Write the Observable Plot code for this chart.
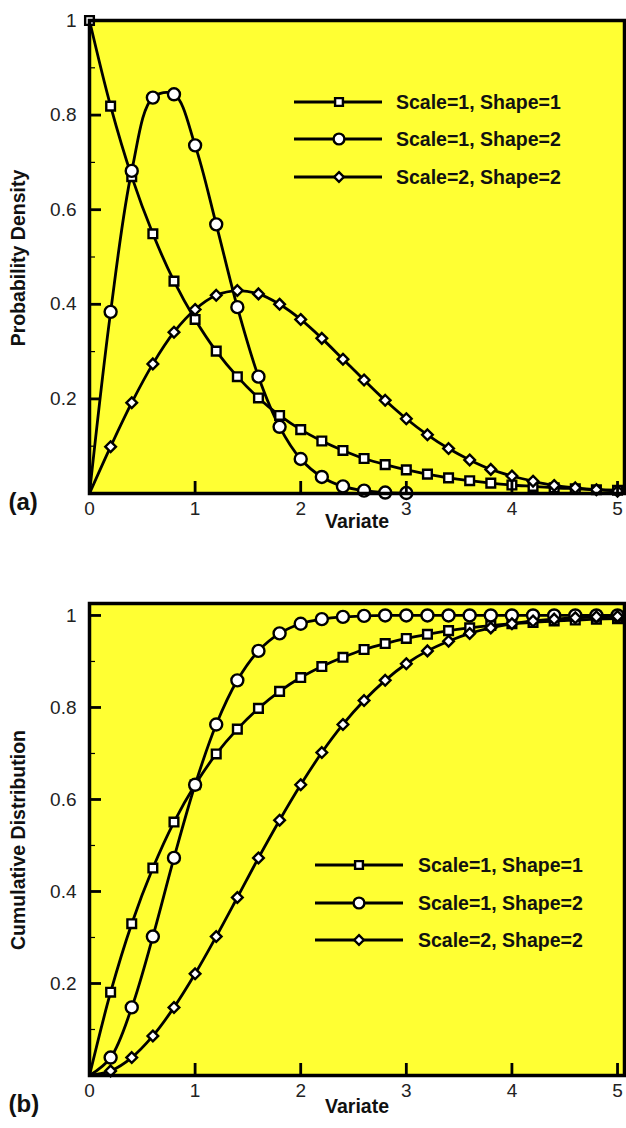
<!DOCTYPE html>
<html>
<head>
<meta charset="utf-8">
<script src="https://cdn.jsdelivr.net/npm/d3@7"></script>
<script src="https://cdn.jsdelivr.net/npm/@observablehq/plot@0.6"></script>
<style>
  body { margin: 0; background: #fff; }
  #wrap { position: relative; width: 626px; height: 1128px; overflow: hidden; font-family: "Liberation Sans", Arial, sans-serif; }
  #wrap > div.panel { position: absolute; left: 0; }
  svg.overlay { position: absolute; left: 0; top: 0; pointer-events: none; }
</style>
</head>
<body>
<div id="wrap">
  <div class="panel" id="pa" style="top:0"></div>
  <div class="panel" id="pb" style="top:545px"></div>
</div>
<script>
// ---------- data ----------
const variate = [0, 0.2, 0.4, 0.6, 0.8, 1, 1.2, 1.4, 1.6, 1.8, 2, 2.2, 2.4, 2.6, 2.8, 3, 3.2, 3.4, 3.6, 3.8, 4, 4.2, 4.4, 4.6, 4.8, 5];
const seriesNames = ["Scale=1, Shape=1", "Scale=1, Shape=2", "Scale=2, Shape=2"];
const seriesSymbols = ["square", "circle", "diamond2"];

// (a) probability density
const pdfScale1Shape1 = [1, 0.819, 0.670, 0.549, 0.449, 0.368, 0.301, 0.247, 0.202, 0.165, 0.135, 0.111, 0.091, 0.074, 0.061, 0.050, 0.041, 0.033, 0.027, 0.022, 0.018, 0.015, 0.012, 0.010, 0.008, 0.007];
const pdfScale1Shape2 = [0, 0.384, 0.682, 0.837, 0.844, 0.736, 0.569, 0.394, 0.247, 0.141, 0.073, 0.035, 0.015, 0.006, 0.002, 0.001];
const pdfScale2Shape2 = [0, 0.099, 0.192, 0.274, 0.341, 0.389, 0.419, 0.429, 0.422, 0.400, 0.368, 0.328, 0.284, 0.240, 0.197, 0.158, 0.124, 0.095, 0.071, 0.051, 0.037, 0.026, 0.017, 0.012, 0.008, 0.005];

// (b) cumulative distribution
const cdfScale1Shape1 = [0, 0.181, 0.330, 0.451, 0.551, 0.632, 0.699, 0.753, 0.798, 0.835, 0.865, 0.889, 0.909, 0.926, 0.939, 0.950, 0.959, 0.967, 0.973, 0.978, 0.982, 0.985, 0.988, 0.990, 0.992, 0.993];
const cdfScale1Shape2 = [0, 0.039, 0.148, 0.302, 0.473, 0.632, 0.763, 0.859, 0.923, 0.961, 0.982, 0.992, 0.997, 0.999, 1, 1, 1, 1, 1, 1, 1, 1, 1, 1, 1, 1];
const cdfScale2Shape2 = [0, 0.010, 0.039, 0.086, 0.148, 0.221, 0.302, 0.387, 0.473, 0.555, 0.632, 0.702, 0.763, 0.815, 0.859, 0.895, 0.923, 0.944, 0.961, 0.973, 0.982, 0.988, 0.992, 0.995, 0.997, 0.998];

const xTicks = [0, 1, 2, 3, 4, 5];
const yTicks = [0.2, 0.4, 0.6, 0.8, 1];
const yMinorTicks = [0.1, 0.3, 0.5, 0.7, 0.9];

// ---------- styling ----------
const YELLOW = "#ffff33";
const FONT = "'Liberation Sans', Arial, sans-serif";
const W = 626, ML = 89, MR = 2;
const symbolR = {square: 4.9, circle: 6, diamond2: 4.8};

function toRows(values, i) {
  return values.map((v, j) => ({x: variate[j], y: v, series: seriesNames[i]}));
}

function panel({series, height, marginTop, marginBottom, yDomain, tag, tagDy, titleDy}) {
  const plotW = W - ML - MR;
  const plotH = height - marginTop - marginBottom;
  const marks = [Plot.frame({fill: YELLOW, stroke: null})];
  series.forEach((vals, i) => {
    const rows = toRows(vals, i);
    marks.push(Plot.line(rows, {x: "x", y: "y", curve: "catmull-rom", stroke: "black", strokeWidth: 2.8}));
  });
  series.forEach((vals, i) => {
    const rows = toRows(vals, i).filter(d => d.y > 0);
    const sym = seriesSymbols[i];
    marks.push(Plot.dot(rows, {x: "x", y: "y", symbol: sym, r: symbolR[sym], fill: "white", stroke: "black", strokeWidth: 2.4}));
  });
  marks.push(
    Plot.tickY(yTicks, {y: d => d, insetRight: plotW - 12, stroke: "black", strokeWidth: 2.8}),
    Plot.tickY(yMinorTicks, {y: d => d, insetRight: plotW - 6, stroke: "black", strokeWidth: 1.2}),
    Plot.tickX(xTicks.filter(d => d > 0), {x: d => d, insetTop: plotH - 12, stroke: "black", strokeWidth: 2.8}),
    Plot.axisX({ticks: xTicks, tickSize: 0, tickPadding: 8, label: null, fontSize: 19, tickFormat: d => String(d)}),
    Plot.axisY({ticks: yTicks, tickSize: 0, tickPadding: 13, label: null, fontSize: 19, tickFormat: d => String(d)}),
    Plot.frame({stroke: "black", strokeWidth: 3.5}),
    Plot.text(["Variate"], {text: d => d, frameAnchor: "bottom", dy: titleDy, fontWeight: "bold", fontSize: 19.5, fill: "#111"}),
    Plot.text([tag], {text: d => d, frameAnchor: "bottom-left", dx: -81, dy: tagDy, textAnchor: "start", fontWeight: "bold", fontSize: 24, fill: "#111"})
  );
  return Plot.plot({
    width: W, height, marginLeft: ML, marginRight: MR, marginTop, marginBottom,
    x: {domain: [0, 5.066]},
    y: {domain: yDomain},
    style: {fontFamily: FONT, fontSize: "19px", color: "#222", background: "white", overflow: "visible"},
    marks
  });
}

document.getElementById("pa").appendChild(panel({
  series: [pdfScale1Shape1, pdfScale1Shape2, pdfScale2Shape2],
  height: 545, marginTop: 20, marginBottom: 52, yDomain: [0, 1],
  tag: "(a)", tagDy: 16, titleDy: 34
}));
document.getElementById("pb").appendChild(panel({
  series: [cdfScale1Shape1, cdfScale1Shape2, cdfScale2Shape2],
  height: 583, marginTop: 58, marginBottom: 53, yDomain: [0, 1.026],
  tag: "(b)", tagDy: 36, titleDy: 37
}));

// ---------- overlay: y-axis titles and legends ----------
const overlay = d3.select("#wrap").append("svg").attr("class", "overlay")
  .attr("width", W).attr("height", 1128);

function yTitle(text, cy) {
  overlay.append("text")
    .attr("transform", `translate(18,${cy}) rotate(-90)`)
    .attr("text-anchor", "middle").attr("dy", "0.36em")
    .attr("font-family", FONT).attr("font-weight", "bold").attr("font-size", 19.5)
    .attr("fill", "#111").text(text);
}
yTitle("Probability Density", 258);
yTitle("Cumulative Distribution", 840);

function legend(x0, x1, xm, xt, ys) {
  ys.forEach((y, i) => {
    const sym = seriesSymbols[i];
    overlay.append("line").attr("x1", x0).attr("x2", x1).attr("y1", y).attr("y2", y)
      .attr("stroke", "black").attr("stroke-width", 2.8);
    const type = sym === "square" ? d3.symbolSquare : sym === "circle" ? d3.symbolCircle : d3.symbolDiamond2;
    const r = symbolR[sym] * 0.9;
    overlay.append("path").attr("d", d3.symbol(type, Math.PI * r * r)())
      .attr("transform", `translate(${xm},${y})`)
      .attr("fill", "white").attr("stroke", "black").attr("stroke-width", 2.4);
    overlay.append("text").attr("x", xt).attr("y", y).attr("dy", "0.36em")
      .attr("font-family", FONT).attr("font-weight", "bold").attr("font-size", 19.5)
      .attr("fill", "#111").text(seriesNames[i]);
  });
}
legend(294, 382, 339, 396, [102, 139, 177]);
legend(315, 403, 359, 418, [865, 903, 940]);
</script>
</body>
</html>
